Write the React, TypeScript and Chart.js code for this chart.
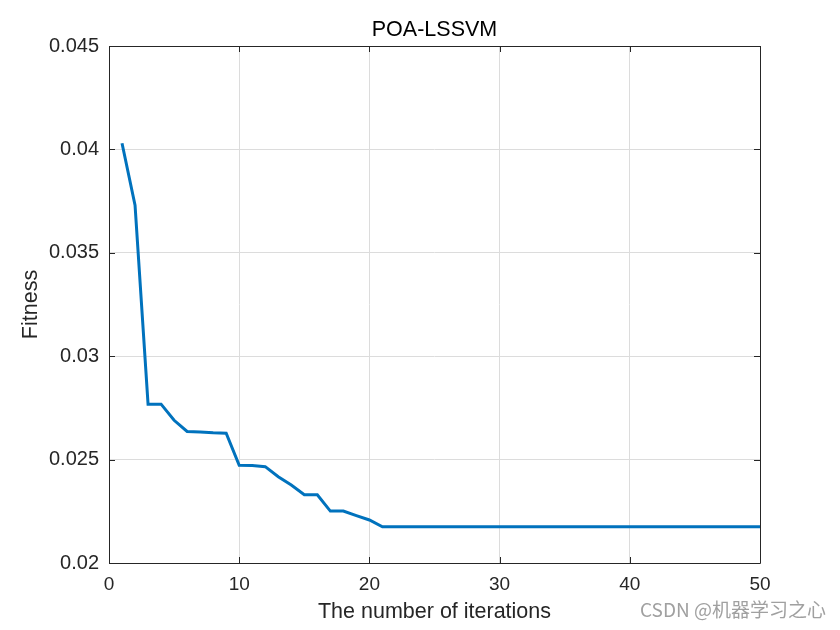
import React, { useEffect, useRef } from "react";
import { Chart, registerables } from "chart.js";

Chart.register(...registerables);

const chartTitle = "POA-LSSVM";
const xAxisTitle = "The number of iterations";
const yAxisTitle = "Fitness";
const watermark = "CSDN @机器学习之心";

const iterations = [
  1, 2, 3, 4, 5, 6, 7, 8, 9, 10,
  11, 12, 13, 14, 15, 16, 17, 18, 19, 20,
  21, 22, 23, 24, 25, 26, 27, 28, 29, 30,
  31, 32, 33, 34, 35, 36, 37, 38, 39, 40,
  41, 42, 43, 44, 45, 46, 47, 48, 49, 50,
];

const fitness = [
  0.0403, 0.0373, 0.02768, 0.02768, 0.0269, 0.02636, 0.02634, 0.0263, 0.02628, 0.02472,
  0.02471, 0.02466, 0.02417, 0.02377, 0.0233, 0.0233, 0.02251, 0.02251, 0.02229, 0.02208,
  0.02175, 0.02175, 0.02175, 0.02175, 0.02175, 0.02175, 0.02175, 0.02175, 0.02175, 0.02175,
  0.02175, 0.02175, 0.02175, 0.02175, 0.02175, 0.02175, 0.02175, 0.02175, 0.02175, 0.02175,
  0.02175, 0.02175, 0.02175, 0.02175, 0.02175, 0.02175, 0.02175, 0.02175, 0.02175, 0.02175,
];

const xTicks = [0, 10, 20, 30, 40, 50];
const yTicks = [0.02, 0.025, 0.03, 0.035, 0.04, 0.045];

const FONT = "'Liberation Sans', Arial, Helvetica, sans-serif";
const AXIS_COLOR = "#262626";

const boxPlugin = {
  id: "matlabBox",
  afterDraw(chart: any) {
    const { ctx, chartArea } = chart;
    const { left, right, top, bottom } = chartArea;
    const xs = chart.scales.x;
    const ys = chart.scales.y;
    ctx.save();
    ctx.strokeStyle = AXIS_COLOR;
    ctx.lineWidth = 1;
    ctx.beginPath();
    ctx.rect(Math.round(left) + 0.5, Math.round(top) + 0.5, Math.round(right - left), Math.round(bottom - top));
    ctx.stroke();
    const tl = 6;
    ctx.beginPath();
    xTicks.forEach((v) => {
      const px = Math.round(xs.getPixelForValue(v)) + 0.5;
      ctx.moveTo(px, bottom);
      ctx.lineTo(px, bottom - tl);
      ctx.moveTo(px, top);
      ctx.lineTo(px, top + tl);
    });
    yTicks.forEach((v) => {
      const py = Math.round(ys.getPixelForValue(v)) + 0.5;
      ctx.moveTo(left, py);
      ctx.lineTo(left + tl, py);
      ctx.moveTo(right, py);
      ctx.lineTo(right - tl, py);
    });
    ctx.stroke();
    ctx.restore();
  },
};

export default function App() {
  const canvasRef = useRef<HTMLCanvasElement | null>(null);

  useEffect(() => {
    if (!canvasRef.current) return;
    const chart = new Chart(canvasRef.current, {
      type: "line",
      data: {
        datasets: [
          {
            label: "Fitness",
            data: iterations.map((x, i) => ({ x, y: fitness[i] })),
            borderColor: "#0072BD",
            borderWidth: 3,
            pointRadius: 0,
            tension: 0,
            fill: false,
          },
        ],
      },
      options: {
        responsive: false,
        animation: false,
        layout: { padding: { top: 0, right: 80, bottom: 0, left: 0 } },
        plugins: {
          legend: { display: false },
          tooltip: { enabled: false },
          title: {
            display: true,
            text: chartTitle,
            fullSize: false,
            color: "#000000",
            font: { family: FONT, size: 21.5, weight: "normal" },
            padding: { top: 17.6, bottom: 2.6 },
          },
        },
        scales: {
          x: {
            type: "linear",
            min: 0,
            max: 50,
            afterBuildTicks: (scale: any) => {
              scale.ticks = xTicks.map((v) => ({ value: v }));
            },
            afterFit: (scale: any) => {
              scale.height = 67;
            },
            ticks: {
              color: AXIS_COLOR,
              font: { family: FONT, size: 19 },
              padding: 10,
              maxRotation: 0,
            },
            grid: { color: "#dcdcdc", drawTicks: false },
            border: { display: false },
            title: {
              display: true,
              text: xAxisTitle,
              color: AXIS_COLOR,
              font: { family: FONT, size: 21.5 },
              padding: { top: 0, bottom: 5 },
            },
          },
          y: {
            type: "linear",
            min: 0.02,
            max: 0.045,
            afterBuildTicks: (scale: any) => {
              scale.ticks = yTicks.map((v) => ({ value: v }));
            },
            afterFit: (scale: any) => {
              scale.width = 109;
            },
            ticks: {
              color: AXIS_COLOR,
              font: { family: FONT, size: 20 },
              padding: 10,
              callback: (v: any) => String(Number(Number(v).toFixed(3))),
            },
            grid: { color: "#dcdcdc", drawTicks: false },
            border: { display: false },
            title: {
              display: true,
              text: yAxisTitle,
              color: AXIS_COLOR,
              font: { family: FONT, size: 21.5 },
              padding: { top: 18.6, bottom: 0 },
            },
          },
        },
      },
      plugins: [boxPlugin],
    });
    return () => chart.destroy();
  }, []);

  return (
    <div style={{ position: "fixed", left: 0, top: 0, width: 840, height: 630, background: "#ffffff" }}>
      <canvas ref={canvasRef} width={840} height={630} style={{ display: "block" }} />
      <div
        style={{
          position: "absolute",
          left: 640,
          top: 598,
          fontFamily: "'Noto Sans CJK SC', 'Liberation Sans', sans-serif",
          fontSize: 19,
          color: "#a0a0a0",
          whiteSpace: "nowrap",
          lineHeight: "22px",
        }}
      >
        {watermark}
      </div>
    </div>
  );
}
